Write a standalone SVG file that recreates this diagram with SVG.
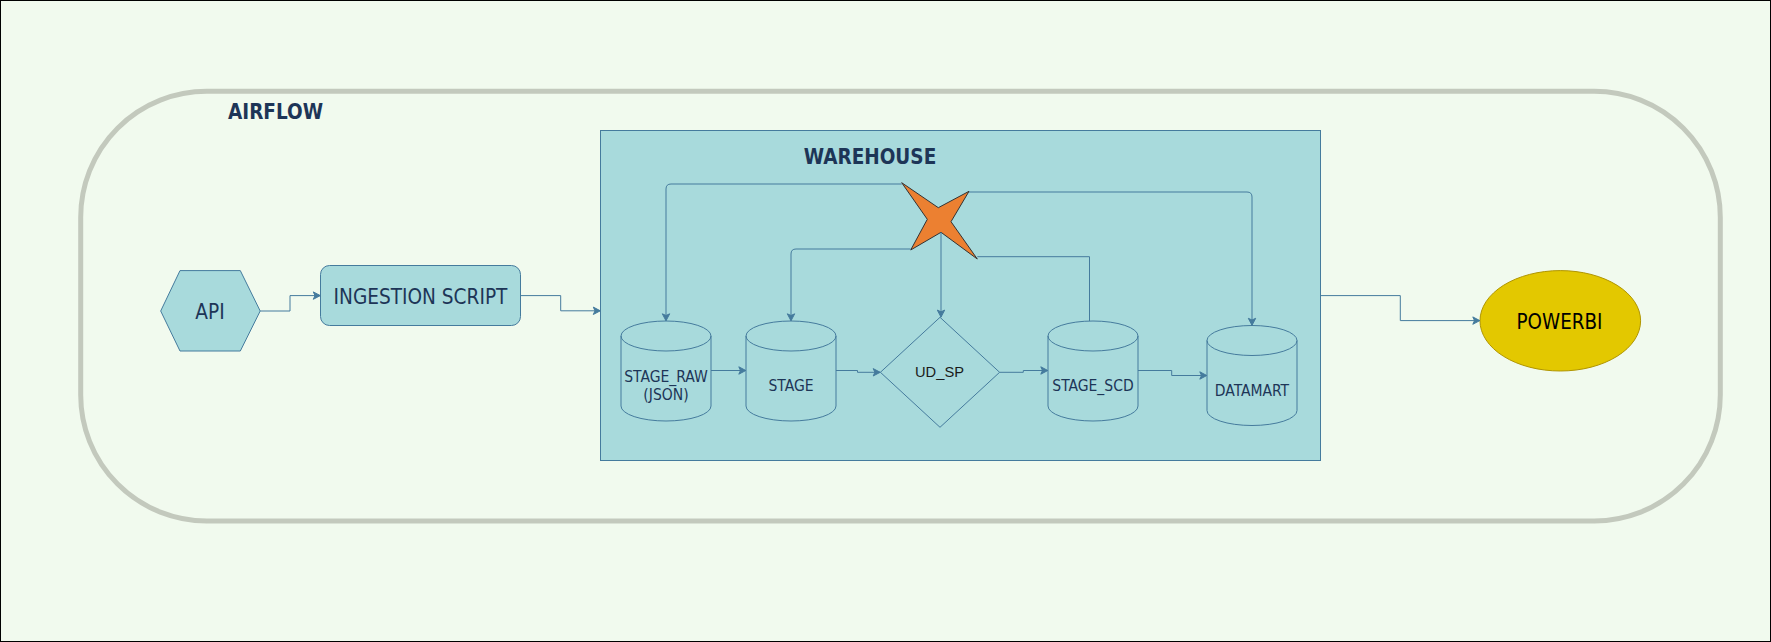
<svg xmlns="http://www.w3.org/2000/svg" width="1771" height="642" viewBox="0 0 1771 642">
<style>
.shape{fill:#A8DADC;stroke:#457B9D;stroke-width:1}
.conn{fill:none;stroke:#457B9D;stroke-width:1}
.lbl{font-family:"DejaVu Sans Condensed","DejaVu Sans",sans-serif;fill:#1D3557;text-anchor:middle}
.big{font-size:20.6px}
.small{font-size:15.5px}
.title{font-weight:bold;font-size:20.5px}
</style>
<defs>
<marker id="arr" markerUnits="userSpaceOnUse" viewBox="-8 -5 9 10" refX="0" refY="0" markerWidth="9" markerHeight="10" orient="auto">
<path d="M0,0 L-7,-3.7 L-5.3,0 L-7,3.7 Z" fill="#457B9D" stroke="#457B9D" stroke-width="1"/>
</marker>
</defs>
<rect id="background" x="0.5" y="0.5" width="1770" height="641" fill="#F1FAEE" stroke="#000000" stroke-width="1"/>
<g id="airflow">
<rect x="80.7" y="91.3" width="1639.6" height="429.7" rx="126" ry="126" fill="none" stroke="#C3C9BD" stroke-width="5"/>
<text class="lbl title" x="275.5" y="119">AIRFLOW</text>
</g>
<g id="warehouse">
<rect class="shape" x="600.5" y="130.5" width="720" height="330"/>
<text class="lbl title" x="870" y="163.5">WAREHOUSE</text>
</g>
<g id="api">
<polygon class="shape" points="160.7,311 180,270.6 240.3,270.6 260.2,311 240.3,351 180,351"/>
<text class="lbl big" x="210" y="319">API</text>
</g>
<g id="ingestion-script">
<rect class="shape" x="320.5" y="265.5" width="200" height="60" rx="9" ry="9"/>
<text class="lbl big" x="420.5" y="304">INGESTION SCRIPT</text>
</g>
<g id="star">
<polygon points="901.7,182.7 938.3,207.7 969,191.3 951,221.7 977.3,259 941,232.3 910.7,250 927.3,219.3" fill="#EC8031" stroke="#333333" stroke-width="1"/>
</g>
<g id="stage-raw">
<path class="shape" d="M621,336 A45,15 0 0 1 711,336 V406 A45,15 0 0 1 621,406 Z"/>
<path class="conn" d="M621,336 A45,15 0 0 0 711,336"/>
<text class="lbl small" x="666" y="382.3">STAGE_RAW</text>
<text class="lbl small" x="666" y="400">(JSON)</text>
</g>
<g id="stage">
<path class="shape" d="M746,336 A45,15 0 0 1 836,336 V406 A45,15 0 0 1 746,406 Z"/>
<path class="conn" d="M746,336 A45,15 0 0 0 836,336"/>
<text class="lbl small" x="791" y="390.7">STAGE</text>
</g>
<g id="ud-sp">
<polygon class="shape" points="940,317.3 999.6,372.3 940,427.3 880.4,372.3"/>
<text x="939.5" y="377.3" font-family="'Liberation Sans',Arial,sans-serif" font-size="14.7" fill="#1A1A1A" text-anchor="middle">UD_SP</text>
</g>
<g id="stage-scd">
<path class="shape" d="M1048,336 A45,15 0 0 1 1138,336 V406 A45,15 0 0 1 1048,406 Z"/>
<path class="conn" d="M1048,336 A45,15 0 0 0 1138,336"/>
<text class="lbl small" x="1093" y="390.7">STAGE_SCD</text>
</g>
<g id="datamart">
<path class="shape" d="M1207,340.5 A45,15 0 0 1 1297,340.5 V410.5 A45,15 0 0 1 1207,410.5 Z"/>
<path class="conn" d="M1207,340.5 A45,15 0 0 0 1297,340.5"/>
<text class="lbl small" x="1252" y="395.7">DATAMART</text>
</g>
<g id="powerbi">
<ellipse cx="1560.3" cy="320.8" rx="80.3" ry="50.2" fill="#E3C800" stroke="#B09500" stroke-width="1"/>
<text x="1559.5" y="329.2" font-family="'DejaVu Sans Condensed','DejaVu Sans',sans-serif" font-size="20.4" fill="#000000" text-anchor="middle">POWERBI</text>
</g>
<g id="connectors">
<path class="conn" marker-end="url(#arr)" d="M260.2,311 H290 V295.6 H320.3"/>
<path class="conn" marker-end="url(#arr)" d="M520.5,295.6 H560.7 V310.8 H600.3"/>
<path class="conn" marker-end="url(#arr)" d="M1320.5,295.6 H1400.3 V320.6 H1479.8"/>
<path class="conn" marker-end="url(#arr)" d="M711,370.5 H745.8"/>
<path class="conn" marker-end="url(#arr)" d="M836,370.5 H857.5 V372.3 H880.2"/>
<path class="conn" marker-end="url(#arr)" d="M999.6,372.3 H1023.3 V370.5 H1047.8"/>
<path class="conn" marker-end="url(#arr)" d="M1138,370.5 H1171.7 V375.5 H1206.8"/>
<path class="conn" marker-end="url(#arr)" d="M901.7,184 H671 Q666,184 666,189 V320.8"/>
<path class="conn" marker-end="url(#arr)" d="M910.7,249 H796 Q791,249 791,254 V320.8"/>
<path class="conn" marker-end="url(#arr)" d="M969,192 H1247 Q1252,192 1252,197 V325.3"/>
<path class="conn" marker-end="url(#arr)" d="M941,232.3 V317.1"/>
<path class="conn" d="M1089.5,321 V256.7 H977.3"/>
</g>
</svg>
